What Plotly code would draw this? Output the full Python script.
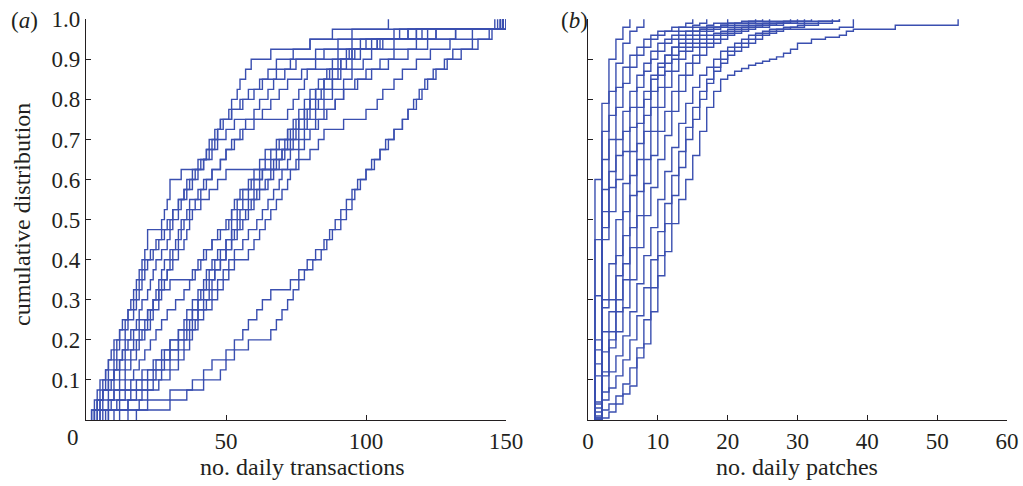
import plotly.graph_objects as go

# ---------------- panel (a): daily transactions (samples per series) ----------------
tx_a1 = [2,3,4,5,7,8,10,11,12,14,15,16,17,18,19,20,21,22,22,27,28,29,30,30,34,40,43,45,47,48,51,52,54,55,57,59,66,80,88,108]
tx_a2 = [3,4,6,7,8,10,11,12,14,15,17,18,19,20,21,22,24,26,28,30,31,33,35,38,40,42,44,46,47,49,52,55,58,62,65,68,74,80,95,148]
tx_a3 = [4,5,5,6,7,8,9,10,12,13,15,17,18,19,20,21,23,25,27,29,31,33,35,36,38,41,43,44,46,48,52,56,60,63,68,73,82,90,110,146]
tx_a4 = [2,4,6,9,10,12,13,14,16,18,19,20,22,23,24,25,27,29,30,31,33,34,36,37,39,42,45,47,50,53,72,74,76,78,79,88,95,105,125,147]
tx_a5 = [5,6,8,10,12,14,16,18,20,22,23,24,25,26,27,28,30,32,33,34,36,37,40,43,45,48,50,53,56,60,63,66,69,72,77,82,90,98,118,149]
tx_a6 = [6,8,10,12,14,16,18,19,21,23,24,26,27,28,29,30,31,33,34,35,37,39,41,42,45,48,50,52,55,57,60,62,65,67,71,75,85,95,115,148]
tx_p  = [3,4,6,8,10,11,13,15,17,19,22,24,26,27,29,31,33,35,36,37,38,41,44,47,50,76,80,83,85,92,100,104,106,110,113,118,123,130,138,149]
tx_b1 = [3,5,6,8,10,12,14,17,19,21,22,24,26,30,38,40,42,45,47,50,52,54,56,58,60,62,64,68,72,75,78,80,82,85,88,91,94,104,118,148]
tx_b2 = [4,8,10,14,17,19,21,23,25,27,29,32,35,37,39,41,43,45,48,51,54,56,58,60,62,64,66,69,72,74,76,78,80,83,86,90,93,100,112,149]
tx_b3 = [8,11,14,18,22,25,28,30,33,35,36,38,40,42,43,45,47,50,52,54,55,58,60,62,63,66,68,71,73,76,79,82,84,88,91,95,98,106,120,150]
tx_b4 = [10,15,20,24,27,30,33,35,37,39,40,42,44,45,46,48,50,52,53,55,57,59,61,64,66,68,70,73,75,79,82,85,88,92,95,99,102,110,125,149]
tx_b5 = [5,9,12,16,20,24,27,30,33,36,38,40,42,44,46,48,50,52,54,56,58,60,62,65,67,69,71,74,76,78,80,83,85,88,90,93,96,102,115,150]
tx_b6 = [12,15,18,22,25,28,30,33,35,37,38,40,41,43,44,46,48,50,52,52,52,53,55,59,63,67,70,72,74,76,78,80,82,85,87,91,95,104,122,148]
tx_b7 = [15,19,22,26,30,33,35,37,38,40,42,45,47,49,51,53,58,60,62,64,66,68,70,72,73,75,76,78,80,83,86,89,92,96,100,105,110,118,132,150]
tx_b8 = [7,12,16,20,24,27,30,33,36,38,40,43,45,47,49,51,53,56,58,61,63,65,67,69,70,72,73,76,78,82,85,89,92,97,102,108,115,122,132,149]
tx_c1 = [18,30,36,42,48,50,53,58,66,68,70,72,74,76,78,81,84,86,88,91,93,95,96,98,100,103,105,108,110,113,115,118,120,122,124,128,131,138,144,149]
tx_c2 = [8,22,30,38,42,45,50,53,56,58,61,63,66,73,76,79,82,85,87,89,91,93,95,97,100,102,105,107,110,113,115,117,119,121,125,129,134,140,145,149]

panel_a = [tx_a1, tx_a2, tx_a3, tx_a4, tx_a5, tx_a6, tx_p, tx_b1, tx_b2, tx_b3,
           tx_b4, tx_b5, tx_b6, tx_b7, tx_b8, tx_c1, tx_c2]

# ---------------- panel (b): cumulative share at 1, 2, 3, ... daily patches ----------------
pt_1 = [0.60, 0.79, 0.90, 0.95, 0.98, 1.0]
pt_2 = [0.45, 0.72, 0.82, 0.89, 0.94, 0.97, 0.98, 1.0]
pt_3 = [0.31, 0.65, 0.76, 0.83, 0.88, 0.91, 0.93, 0.95, 0.96, 0.97, 0.97, 0.98, 0.98, 0.99, 1.0]
pt_4 = [0.20, 0.575, 0.70, 0.78, 0.84, 0.88, 0.91, 0.93, 0.95, 0.96, 0.97, 0.97, 0.98, 0.98, 0.985, 0.99, 1.0]
pt_5 = [0.175, 0.52, 0.62, 0.70, 0.77, 0.82, 0.86, 0.89, 0.92, 0.94, 0.95, 0.96, 0.97, 0.97, 0.98, 0.98, 0.985, 0.99, 0.99, 1.0]
pt_6 = [0.14, 0.48, 0.58, 0.66, 0.72, 0.78, 0.83, 0.87, 0.90, 0.92, 0.94, 0.95, 0.96, 0.97, 0.97, 0.975, 0.98, 0.98, 0.985, 0.99, 0.99, 0.995, 0.995, 1.0]
pt_7 = [0.11, 0.45, 0.52, 0.60, 0.67, 0.73, 0.78, 0.82, 0.86, 0.89, 0.91, 0.93, 0.95, 0.96, 0.97, 0.975, 0.98, 0.98, 0.985, 0.99, 0.99, 0.99, 0.995, 0.995, 1.0]
pt_8 = [0.045, 0.30, 0.39, 0.50, 0.59, 0.67, 0.74, 0.80, 0.85, 0.88, 0.91, 0.93, 0.94, 0.95, 0.96, 0.97, 0.975, 0.98, 0.98, 0.985, 0.99, 0.99, 0.99, 0.995, 0.995, 1.0]
pt_9 = [0.04, 0.28, 0.30, 0.41, 0.52, 0.61, 0.69, 0.76, 0.82, 0.86, 0.89, 0.91, 0.93, 0.94, 0.95, 0.96, 0.97, 0.975, 0.98, 0.98, 0.985, 0.985, 0.99, 0.99, 0.99, 0.995, 0.995, 0.995, 1.0]
pt_10 = [0.02, 0.22, 0.27, 0.36, 0.46, 0.56, 0.65, 0.72, 0.78, 0.83, 0.87, 0.90, 0.92, 0.93, 0.94, 0.95, 0.96, 0.965, 0.97, 0.975, 0.98, 0.98, 0.985, 0.985, 0.99, 0.99, 0.99, 0.995, 0.995, 1.0]
pt_11 = [0.03, 0.17, 0.22, 0.30, 0.39, 0.48, 0.57, 0.65, 0.72, 0.78, 0.83, 0.87, 0.90, 0.92, 0.93, 0.94, 0.95, 0.96, 0.965, 0.97, 0.975, 0.98, 0.98, 0.985, 0.985, 0.99, 0.99, 0.99, 0.995, 0.995, 1.0]
pt_12 = [0.01, 0.12, 0.20, 0.27, 0.35, 0.43, 0.51, 0.59, 0.66, 0.72, 0.77, 0.82, 0.86, 0.89, 0.91, 0.93, 0.94, 0.95, 0.96, 0.965, 0.97, 0.975, 0.98, 0.98, 0.985, 0.985, 0.99, 0.99, 0.99, 0.995, 0.995, 1.0]
pt_13 = [0.005, 0.11, 0.18, 0.22, 0.28, 0.35, 0.43, 0.51, 0.58, 0.65, 0.71, 0.77, 0.82, 0.86, 0.89, 0.91, 0.93, 0.94, 0.95, 0.96, 0.965, 0.97, 0.975, 0.98, 0.98, 0.985, 0.985, 0.99, 0.99, 0.99, 0.995, 0.995, 0.995, 0.995, 1.0]
pt_14 = [0.0, 0.07, 0.12, 0.16, 0.21, 0.27, 0.34, 0.41, 0.48, 0.55, 0.62, 0.68, 0.74, 0.79, 0.83, 0.86, 0.88, 0.90, 0.92, 0.93, 0.94, 0.95, 0.96, 0.965, 0.97, 0.975, 0.975, 0.975, 0.975, 0.975, 0.975, 0.975, 0.975, 0.975, 0.975, 0.98, 0.98, 1.0]
pt_15 = [0.0, 0.05, 0.08, 0.11, 0.15, 0.20, 0.26, 0.33, 0.40, 0.47, 0.54, 0.61, 0.67, 0.73, 0.78, 0.82, 0.85, 0.88, 0.90, 0.92, 0.93, 0.94, 0.95, 0.96, 0.965, 0.97, 0.975, 0.98, 0.98, 0.985, 0.99, 0.99, 0.995, 0.995, 0.995, 1.0]
pt_16 = [0.0, 0.025, 0.04, 0.06, 0.09, 0.13, 0.18, 0.25, 0.33, 0.41, 0.49, 0.56, 0.63, 0.70, 0.75, 0.80, 0.84, 0.87, 0.89, 0.91, 0.92, 0.93, 0.94, 0.95, 0.96, 0.965, 0.97, 0.975, 0.98, 0.98, 0.985, 0.985, 0.99, 0.99, 0.995, 1.0]
pt_17 = [0.005, 0.005, 0.02, 0.04, 0.065, 0.085, 0.155, 0.19, 0.27, 0.36, 0.42, 0.49, 0.55, 0.60, 0.66, 0.72, 0.78, 0.82, 0.85, 0.86, 0.87, 0.877, 0.885, 0.89, 0.895, 0.90, 0.906, 0.915, 0.925, 0.94, 0.94, 0.95, 0.95, 0.955, 0.955, 0.96, 0.97, 0.975, 0.975, 0.975, 0.975, 0.975, 0.975, 0.985, 0.985, 0.985, 0.985, 0.985, 0.985, 0.985, 0.985, 0.985, 1.0]

panel_b = [pt_1, pt_2, pt_3, pt_4, pt_5, pt_6, pt_7, pt_8, pt_9, pt_10, pt_11,
           pt_12, pt_13, pt_14, pt_15, pt_16, pt_17]

y_ticks = [0.1, 0.2, 0.3, 0.4, 0.5, 0.6, 0.7, 0.8, 0.9, 1.0]
y_tick_text = ["0.1", "0.2", "0.3", "0.4", "0.5", "0.6", "0.7", "0.8", "0.9", "1.0"]
xa_ticks = [0, 50, 100, 150]
xa_tick_text = ["", "50", "100", "150"]
xb_ticks = [0, 10, 20, 30, 40, 50, 60]

BLUE = "#3a4fb0"
INK = "#231f20"
FONT = "Liberation Serif"
FS_TICK = 23
FS_TITLE = 24

W, H = 1023, 486


def px(x):
    return x / W


def py(y):
    return (H - y) / H


fig = go.Figure()

for s in panel_a:
    v = sorted(s)
    n = len(v)
    xs = [v[0]] + v
    ys = [0.0] + [(i + 1) / n for i in range(n)]
    fig.add_trace(go.Scatter(x=xs, y=ys, mode="lines", xaxis="x", yaxis="y",
                             line=dict(shape="hv", color=BLUE, width=1.4),
                             showlegend=False, hoverinfo="skip"))

for vals in panel_b:
    xs = [1] + list(range(1, len(vals) + 1))
    ys = [0.0] + vals
    fig.add_trace(go.Scatter(x=xs, y=ys, mode="lines", xaxis="x2", yaxis="y2",
                             line=dict(shape="hv", color=BLUE, width=1.4),
                             showlegend=False, hoverinfo="skip"))

axis_common = dict(showline=True, linecolor=INK, linewidth=1.3, mirror=False,
                   ticks="inside", ticklen=5, tickwidth=1.2, tickcolor=INK,
                   showgrid=False, zeroline=False, automargin=False,
                   tickfont=dict(family=FONT, size=FS_TICK, color=INK))

tick_txt = dict(family=FONT, size=FS_TICK, color=INK)
title_txt = dict(family=FONT, size=FS_TITLE, color=INK)
fig.update_layout(
    width=W, height=H,
    margin=dict(l=0, r=0, t=0, b=0, pad=0),
    paper_bgcolor="white", plot_bgcolor="white",
    font=tick_txt,
    xaxis=dict(domain=[px(86), px(506)], range=[0, 150], tickvals=xa_ticks,
               ticktext=xa_tick_text, anchor="y", **axis_common),
    yaxis=dict(domain=[py(420), py(19)], range=[0, 1.0005], tickvals=y_ticks,
               ticktext=y_tick_text, anchor="x", **axis_common),
    xaxis2=dict(domain=[px(588), px(1007)], range=[0, 60], tickvals=xb_ticks,
                anchor="y2", **axis_common),
    yaxis2=dict(domain=[py(420), py(19)], range=[0, 1.0005], tickvals=y_ticks,
                showticklabels=False, anchor="x2", **axis_common),
    annotations=[
        dict(text="0", x=px(73), y=py(437), xref="paper", yref="paper",
             showarrow=False, font=tick_txt, xanchor="center", yanchor="middle"),
        dict(text="no. daily transactions", x=px(302), y=py(467), xref="paper", yref="paper",
             showarrow=False, font=title_txt, xanchor="center", yanchor="middle"),
        dict(text="no. daily patches", x=px(797), y=py(467), xref="paper", yref="paper",
             showarrow=False, font=title_txt, xanchor="center", yanchor="middle"),
        dict(text="cumulative distribution", x=px(22), y=py(215), xref="paper", yref="paper",
             showarrow=False, textangle=-90, font=title_txt, xanchor="center", yanchor="middle"),
        dict(text="(<i>a</i>)", x=px(24), y=py(20), xref="paper", yref="paper",
             showarrow=False, font=tick_txt, xanchor="center", yanchor="middle"),
        dict(text="(<i>b</i>)", x=px(574), y=py(20), xref="paper", yref="paper",
             showarrow=False, font=tick_txt, xanchor="center", yanchor="middle"),
    ],
)

# remove the page's default body margin so the figure sits at the window's corner
fig.write_html(
    "out.html",
    config={"displayModeBar": False},
    post_script="document.body.style.margin='0';document.documentElement.style.overflow='hidden';document.body.style.overflow='hidden';",
)
